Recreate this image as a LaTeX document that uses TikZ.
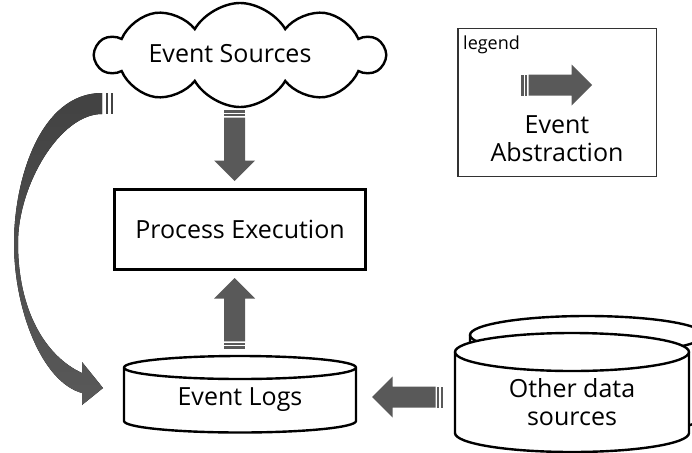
\documentclass[tikz,border=0pt]{standalone}
\usepackage{fontspec}
\setmainfont{Open Sans}
\usetikzlibrary{shapes.symbols,calc}
\definecolor{arrowgrey}{RGB}{89,89,89}
\definecolor{arrowdark}{RGB}{66,66,66}
\definecolor{framegrey}{RGB}{50,50,50}

% cylinder: #1 centre x, #2 top centre y, #3 bottom centre y, #4 x radius, #5 y radius
\newcommand\drumshape[5]{%
  \filldraw[cylline] ({#1-#4},#2) -- ({#1-#4},#3)
    arc[start angle=180,end angle=0,x radius=#4,y radius=#5]
    -- ({#1+#4},#2)
    arc[start angle=0,end angle=-180,x radius=#4,y radius=#5] -- cycle;
  \draw[cylline,fill=none] ({#1-#4},#2)
    arc[start angle=180,end angle=0,x radius=#4,y radius=#5];
}

\tikzset{
  lbl/.style={font=\fontsize{25}{28}\selectfont, align=center, inner sep=0pt},
  smalllbl/.style={font=\fontsize{18}{20}\selectfont, inner sep=0pt},
  cloudbox/.style={cloud, draw, line width=2.4pt, cloud puffs=10,
    cloud puff arc=120, aspect=3.0, minimum width=288pt,
    minimum height=104pt, fill=white, inner sep=0pt},
  procbox/.style={draw, line width=3pt, minimum width=251pt,
    minimum height=80pt, inner sep=0pt},
  legendbox/.style={draw=framegrey, line width=1.5pt, minimum width=198.5pt,
    minimum height=147.5pt, inner sep=0pt},
  cylline/.style={line width=2.4pt, fill=white, line join=round},
  % striped block arrow, tip at the origin, pointing along +x
  barrow/.pic={
    \fill[arrowgrey] (-71,-10.5) rectangle (-68.4,10.5);
    \fill[arrowgrey] (-67,-10.5) rectangle (-64.6,10.5);
    \fill[arrowgrey] (-63.4,-10.5) -- (-20.5,-10.5) -- (-20.5,-20.5)
      -- (0,0) -- (-20.5,20.5) -- (-20.5,10.5) -- (-63.4,10.5) -- cycle;
  }
}

\begin{document}
\begin{tikzpicture}[x=1pt,y=-1pt]
  \useasboundingbox (0,0) rectangle (692,452);
  \clip (0,0) rectangle (692,452);

  % cloud of event sources
  \node[cloudbox] (src) at (240,55) {};
  \node[lbl] (srctext) at (230,54) {Event Sources};

  % process execution
  \node[procbox, lbl] (proc) at (240,229.5) {Process Execution};

  % event log cylinder
  \drumshape{240}{367.5}{421}{116}{11.5}
  \node[lbl, minimum width=232pt] (logs) at (240,400) {Event Logs};

  % other data sources: two stacked cylinders
  \drumshape{587}{335}{416}{117}{19}
  \drumshape{572}{352}{433}{117}{19}
  \node[lbl] (other) at (572,402) {Other data\\sources};

  % legend
  \node[legendbox] (legend) at (557,102.5) {};
  \node[smalllbl, anchor=west] (legendtitle) at ($(legend.north west)+(6,17)$) {legend};
  \node[lbl] (abstr) at (557,139) {Event\\Abstraction};
  \pic at ($(legend.center)+(35,-17.5)$) {barrow};

  % straight abstraction arrows
  \pic[rotate=-90] at ($(proc.north)+(-5.5,-7)$) {barrow};
  \pic[rotate=90] at ($(proc.south)+(-5.5,7)$) {barrow};
  \pic[rotate=180] at ($(logs.east)+(16,-3)$) {barrow};

  % curved arrow from the event sources down to the event logs
  \coordinate (ctail) at (102,103.5);
  \coordinate (ctip) at (103,388);
  \fill[top color=arrowdark, bottom color=arrowgrey]
    (102,93) .. controls (40,93) and (14,180) .. (14,243)
    .. controls (14,310) and (42,382) .. (82,393)
    -- (82,405) -- (ctip) -- (82,362) -- (82,373)
    .. controls (45,356) and (18,310) .. (18,243)
    .. controls (18,185) and (60,114) .. (102,114) -- cycle;
  \fill[arrowdark] (105.5,93) rectangle (108,114);
  \fill[arrowdark] (110.5,93) rectangle (113,114);
\end{tikzpicture}
\end{document}
